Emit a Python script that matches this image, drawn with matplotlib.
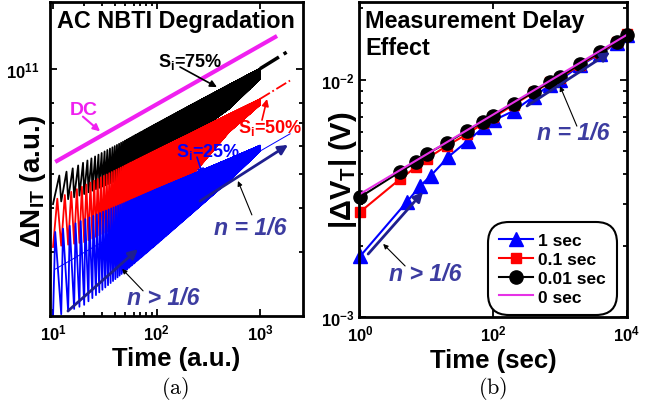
import numpy as np
import matplotlib.pyplot as plt
from matplotlib.ticker import FixedLocator, FixedFormatter, LogLocator, NullLocator, NullFormatter

plt.rcParams['font.family'] = ['Liberation Sans', 'DejaVu Sans']
plt.rcParams['font.weight'] = 'bold'
plt.rcParams['mathtext.fontset'] = 'custom'
plt.rcParams['mathtext.rm'] = 'Liberation Sans'
plt.rcParams['mathtext.bf'] = 'Liberation Sans:bold'
plt.rcParams['mathtext.it'] = 'Liberation Sans:italic'

# ---- (a) AC NBTI: envelopes of the AC traces read at these times (a.u.)
t_env = [10, 20, 50, 100, 200, 500, 1000]
s75_top = [4.85e10, 5.41e10, 6.24e10, 6.97e10, 7.78e10, 8.98e10, 1.0e11]
s75_bot = [4.11e10, 4.39e10, 4.91e10, 5.46e10, 6.31e10, 7.69e10, 9.36e10]
s50_top = [4.2e10, 4.64e10, 5.3e10, 5.86e10, 6.47e10, 7.4e10, 8.18e10]
s50_bot = [3.1e10, 3.2e10, 3.61e10, 4.06e10, 4.8e10, 6.6e10, 7.9e10]
s25_top = [3.4e10, 3.71e10, 4.15e10, 4.53e10, 4.93e10, 5.52e10, 6.03e10]
s25_bot = [1.95e10, 2.12e10, 2.65e10, 3.16e10, 3.78e10, 4.79e10, 5.83e10]
dc_t = [10.5, 1460]
dc_n = [5.42e10, 1.24e11]
# long time tails after the last cycle
s75_tail_t = [1000, 1950]
s75_tail_n = [1.0e11, 1.13e11]
s50_tail_t = [1000, 1950]
s50_tail_n = [8.2e10, 9.25e10]
s25_fit_t = [10.5, 1950]
s25_fit_n = [2.68e10, 6.52e10]
period = 2.0

# ---- (b) measurement delay
t_meas = [1, 4, 7, 10, 20, 40, 70, 100, 200, 400, 700, 1000, 2000, 4000, 7000, 10000]
dv_001 = [3.2e-3, 4.1e-3, 4.5e-3, 4.87e-3, 5.42e-3, 6.1e-3, 6.65e-3, 7.05e-3,
          7.93e-3, 8.9e-3, 9.8e-3, 1.03e-2, 1.17e-2, 1.31e-2, 1.45e-2, 1.55e-2]
dv_01 = [2.77e-3, 3.82e-3, 4.3e-3, 4.65e-3, 5.27e-3, 5.9e-3, 6.55e-3, 6.95e-3,
         7.85e-3, 8.85e-3, 9.75e-3, 1.02e-2, 1.16e-2, 1.3e-2, 1.44e-2, 1.56e-2]
t_1s = [1, 5, 8, 11.5, 21, 41, 71, 101, 201, 401, 701, 1001, 2001, 4001, 7001, 10001]
dv_1 = [1.8e-3, 3.05e-3, 3.57e-3, 3.94e-3, 4.73e-3, 5.53e-3, 6.3e-3, 6.75e-3,
        7.4e-3, 8.5e-3, 9.5e-3, 1.0e-2, 1.15e-2, 1.29e-2, 1.43e-2, 1.54e-2]
t_zero = [1, 10000]
dv_zero = [3.3e-3, 1.55e-2]

NAVY = '#1f1f8f'
NTXT = '#3c3ca0'
MAG = '#f020f0'


# one stress/recovery cycle per period, between the read envelopes
def ac_trace(top, bot, duty, t_end=1000):
    k = np.arange(10, t_end, period)
    lt = np.log10(t_env)
    lo = np.interp(np.log10(k), lt, np.log10(bot))
    hi = np.interp(np.log10(k + duty * period), lt, np.log10(top))
    tt = np.column_stack([k, k + duty * period]).ravel()
    nn = 10 ** np.column_stack([lo, hi]).ravel()
    return tt, nn


def style_axes(ax):
    for s in ax.spines.values():
        s.set_linewidth(2)
    ax.tick_params(which='both', direction='in', top=True, right=True, width=1.3)
    ax.tick_params(which='major', length=5, labelsize=12)
    ax.tick_params(which='minor', length=3)
    ax.tick_params(axis='x', pad=5)


def arrow(ax, head, tail, color, lw, ms):
    ax.annotate('', xy=head, xytext=tail, xycoords='axes fraction',
                arrowprops=dict(arrowstyle='-|>', color=color, lw=lw,
                                mutation_scale=ms, shrinkA=0, shrinkB=0))


fig = plt.figure(figsize=(6.51, 4.06), dpi=100)
ax1 = fig.add_axes([0.0768, 0.2192, 0.3886, 0.7734])
ax2 = fig.add_axes([0.5515, 0.2167, 0.4116, 0.7759])

# ---------------- panel (a)
ax1.set_xscale('log')
ax1.set_yscale('log')
ax1.plot(dc_t, dc_n, color=MAG, lw=3, solid_capstyle='butt')
for top, bot, duty, c in [(s75_top, s75_bot, 0.75, 'k'),
                          (s50_top, s50_bot, 0.5, '#ff0000'),
                          (s25_top, s25_bot, 0.25, '#0000ff')]:
    tt, nn = ac_trace(top, bot, duty)
    ax1.plot(tt, nn, color=c, lw=1.3)
ax1.plot(s75_tail_t, s75_tail_n, color='k', lw=2.5, ls='-.')
ax1.plot(s50_tail_t, s50_tail_n, color='#ff0000', lw=1.3, ls='-.')
ax1.plot(s25_fit_t, s25_fit_n, color='#0000ff', lw=0.7)

ax1.set_xlim(9.35, 2600)
ax1.set_ylim(1.97e10, 1.55e11)
ax1.xaxis.set_major_locator(FixedLocator([10, 100, 1000]))
ax1.xaxis.set_major_formatter(FixedFormatter([r'10$^{1}$', r'10$^{2}$', r'10$^{3}$']))
ax1.xaxis.set_minor_locator(FixedLocator([20, 30, 40, 50, 60, 70, 80, 90]))
ax1.xaxis.set_minor_formatter(NullFormatter())
ax1.yaxis.set_major_locator(FixedLocator([1e11]))
ax1.yaxis.set_major_formatter(FixedFormatter([r'10$^{11}$']))
ax1.yaxis.set_minor_locator(FixedLocator([3e10, 4e10, 5e10, 6e10, 7e10, 8e10]))
ax1.yaxis.set_minor_formatter(NullFormatter())
style_axes(ax1)
ax1.tick_params(axis='y', pad=8)

ax1.set_xlabel('Time (a.u.)', fontsize=18.5, fontweight='bold')
ax1.xaxis.set_label_coords(0.5, -0.097)
ax1.set_ylabel(r'ΔN$_{\mathbf{IT}}$ (a.u.)', fontsize=20, fontweight='bold', va='center')
ax1.yaxis.set_label_coords(-0.067, 0.43)

ax1.text(0.028, 0.920, 'AC NBTI Degradation', transform=ax1.transAxes,
         fontsize=16.8, fontweight='bold', va='baseline')
ax1.text(0.134, 0.659, 'DC', transform=ax1.transAxes, color=MAG,
         fontsize=14, fontweight='bold', ha='center', va='center')
arrow(ax1, (0.198, 0.588), (0.13, 0.635), MAG, 1.5, 10)
ax1.text(0.553, 0.812, r'S$_{\mathbf{i}}$=75%', transform=ax1.transAxes,
         fontsize=13, fontweight='bold', ha='center', va='center')
arrow(ax1, (0.66, 0.729), (0.514, 0.793), 'k', 1.2, 10)
ax1.text(0.87, 0.602, r'S$_{\mathbf{i}}$=50%', transform=ax1.transAxes, color='#ff0000',
         fontsize=13, fontweight='bold', ha='center', va='center')
arrow(ax1, (0.858, 0.691), (0.838, 0.624), '#ff0000', 1.2, 10)
ax1.text(0.625, 0.525, r'S$_{\mathbf{i}}$=25%', transform=ax1.transAxes, color='#0000ff',
         fontsize=13, fontweight='bold', ha='center', va='center')
arrow(ax1, (0.605, 0.446), (0.581, 0.506), '#0000ff', 1.2, 10)
arrow(ax1, (0.941, 0.545), (0.593, 0.366), NAVY, 2, 14)
arrow(ax1, (0.743, 0.43), (0.798, 0.322), 'k', 0.8, 7)
ax1.text(0.79, 0.283, 'n = 1/6', transform=ax1.transAxes, color=NTXT,
         fontsize=16.7, fontweight='bold', style='italic', ha='center', va='center')
arrow(ax1, (0.348, 0.213), (0.071, 0.016), NAVY, 2, 14)
arrow(ax1, (0.285, 0.15), (0.368, 0.08), 'k', 0.8, 7)
ax1.text(0.447, 0.06, 'n > 1/6', transform=ax1.transAxes, color=NTXT,
         fontsize=16.7, fontweight='bold', style='italic', ha='center', va='center')

# ---------------- panel (b)
ax2.set_xscale('log')
ax2.set_yscale('log')
ax2.plot(t_1s, dv_1, '-^', color='#0000ff', ms=9.5, lw=1.5, label='1 sec', clip_on=False)
ax2.plot(t_meas, dv_01, '-s', color='#ff0000', ms=7.5, lw=1.5, label='0.1 sec', clip_on=False)
ax2.plot(t_meas, dv_001, '-o', color='k', ms=9.5, lw=1.5, label='0.01 sec', clip_on=False)
ax2.plot(t_zero, dv_zero, '-', color='#e632e6', lw=1.5, label='0 sec')

ax2.set_xlim(0.97, 1.0e4)
ax2.set_ylim(1e-3, 0.0213)
ax2.xaxis.set_major_locator(FixedLocator([1, 100, 10000]))
ax2.xaxis.set_major_formatter(FixedFormatter([r'10$^{0}$', r'10$^{2}$', r'10$^{4}$']))
ax2.xaxis.set_minor_locator(NullLocator())
ax2.yaxis.set_major_locator(FixedLocator([1e-3, 1e-2]))
ax2.yaxis.set_major_formatter(FixedFormatter([r'10$^{-3}$', r'10$^{-2}$']))
ax2.yaxis.set_minor_locator(LogLocator(base=10, subs=np.arange(2, 10)))
ax2.yaxis.set_minor_formatter(NullFormatter())
style_axes(ax2)
ax2.tick_params(axis='y', pad=3)

ax2.set_xlabel('Time (sec)', fontsize=18.5, fontweight='bold')
ax2.xaxis.set_label_coords(0.5, -0.097)
ax2.set_ylabel(r'|ΔV$_{\mathbf{T}}$| (V)', fontsize=21, fontweight='bold', va='center')
ax2.yaxis.set_label_coords(-0.06, 0.47)

ax2.text(0.022, 0.921, 'Measurement Delay', transform=ax2.transAxes,
         fontsize=16.8, fontweight='bold', va='baseline')
ax2.text(0.022, 0.835, 'Effect', transform=ax2.transAxes,
         fontsize=16.8, fontweight='bold', va='baseline')
arrow(ax2, (0.239, 0.397), (0.034, 0.2), NAVY, 2, 14)
arrow(ax2, (0.09, 0.232), (0.172, 0.162), 'k', 0.8, 7)
ax2.text(0.246, 0.137, 'n > 1/6', transform=ax2.transAxes, color=NTXT,
         fontsize=16.7, fontweight='bold', style='italic', ha='center', va='center')
arrow(ax2, (0.937, 0.841), (0.627, 0.67), NAVY, 2, 14)
arrow(ax2, (0.75, 0.733), (0.813, 0.606), 'k', 0.8, 7)
ax2.text(0.799, 0.587, 'n = 1/6', transform=ax2.transAxes, color=NTXT,
         fontsize=16.7, fontweight='bold', style='italic', ha='center', va='center')

leg = ax2.legend(loc='lower right', bbox_to_anchor=(0.955, 0.012), fontsize=12.5,
                 handlelength=2.0, handletextpad=0.3, labelspacing=0.22,
                 borderpad=0.3, borderaxespad=0.2, framealpha=1, fancybox=True)
leg.get_frame().set_edgecolor('k')
leg.get_frame().set_linewidth(1.5)
leg.get_frame().set_boxstyle('round', pad=0.3, rounding_size=1.2)

fig.text(0.269, 0.0443, r'$\mathrm{(a)}$', math_fontfamily='cm', fontsize=16,
         ha='center', va='center')
fig.text(0.757, 0.0443, r'$\mathrm{(b)}$', math_fontfamily='cm', fontsize=16,
         ha='center', va='center')

fig.savefig('out.png', dpi=100)
